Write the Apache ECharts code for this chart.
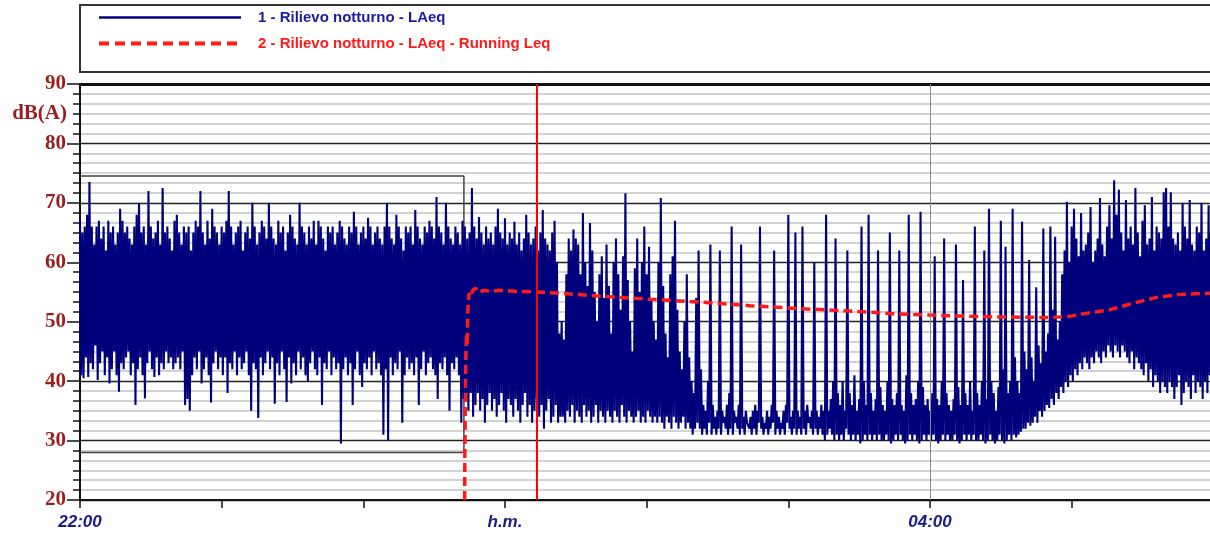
<!DOCTYPE html>
<html>
<head>
<meta charset="utf-8">
<script src="https://cdn.jsdelivr.net/npm/echarts@6/dist/echarts.min.js"></script>
<style>html,body{margin:0;padding:0;background:#fff;}#c{width:1210px;height:536px;}</style>
</head>
<body>
<div id="c"></div>
<script>
// ---- DATA (minutes after 22:00) ----
const xTickLabels = {0: '22:00', 180: 'h.m.', 360: '04:00'};
const seriesNames = ['1 - Rilievo notturno - LAeq', '2 - Rilievo notturno - LAeq - Running Leq'];

// per-minute peak and floor levels of LAeq, dB(A)
const peakSeg1 = [
67,65,66,68,73.5,66,63,66,67,64,66,62,67,65,66,63,65,69,67,65,
66,64,63,66,68,70,65,66,63,72,66,64,65,67,63,72.5,65,66,64,62,
67,68,65,63,66,65,66,62,65,67,66,72,65,63,67,64,69,66,65,63,
66,65,67,72,66,63,65,66,67,62,65,66,64,70,66,63,65,67,66,64,
70,66,64,63,67,65,66,62,65,68,66,64,63,70,66,65,63,66,64,67,
63,67,66,64,62,66,65,66,63,65,67,66,64,63,66,65,68.5,66,63,65,
66,64,67.5,66,63,65,66,64,63,66,70,66,64,63,68,66,64,62,66,65,
66,63,68.8,66,64,63,66,65,67,66,64,71,66,65,63,70,66,64,63,66,65,63,67];
const floorSeg1 = [
41,40.5,44,40.7,43,42,46,40.2,43,45,41,44,39.6,42,45,41,38.2,43,42,44,
45,41,43,36,42,44,41,37.1,43,45,42,40.7,44,41,43,42,45,43,44,42,
43,44,42,45,36,37,35,41,44,42,45,39.6,42,44,41,36.4,43,45,42,44,
41,44,38,43,42,45,41,44,42,43,45,41,35,43,42,33.8,44,41,43,45,
42,44,36.2,43,41,45,42,36.5,44,39.6,43,41,45,42,44,41,40,43,45,42,
41,44,36,43,42,45,41,44,42,43,29.5,42,44,41,43,36,42,45,41,39,
43,42,44,41,45,42,43,41,31,42,30,44,41,43,42,45,33,41,44,42,
43,41,44,36,42,45,41,43,44,42,41,37,43,42,44,41,35,43,42,44,41,33,37];
const peakSeg2 = [
66,64,65,72.5,66,64,67.6,65,63,66,64,65,63,66,69,65,64,67.4,63,65,
64,66.8,63,65,62,64,68,65,63,64,66,62,65,68.8,64,63,62,65,67,60,48];
const floorSeg2 = [
37,35,38,34,36,38,35,37,33,36,38,35,37,34,36,38,35,33,37,36,
34,37,35,33,36,38,34,36,33,35,37,34,36,32,35,37,33,34,36,33,34];
const peakSeg3 = [
50,47,58,64,62,65.5,64,63,58,68.3,60,56,66.6,62,55,50,58,61,54,63,
56,48,60,64,58,52,61,71.6,57,50,45,59,64,55,60,66,58,62.6,54,50,
47,60,70.8,56,48,44,58,61,67,52,45,42,50,58,44,40,38,54,62,42,
36,35,40,63,36,34,35,62,35,34,36,38,66,35,34,36,63,34,35,33,
34,35,36,35,66,34,33,35,34,36,62,35,34,33,35,36,68,34,35,65,
35,34,66,35,36,34,35,60,35,34,36,35,68,35,37,40,
64,38,36,40,35,62,38,36,41,35,37,66,40,36,68,38,35,37,62,39,
36,35,40,65,37,36,38,62,36,35,41,68,38,36,37,40,68.5,39,36,37,
35,38,61,37,36,40,64,38,36,35,37,63,39,36,57,38,36,40,35,66,
38,36,40,62,37,69,40,38,35,39,67,42,62.6,38,40,69,44,40,38,66.8,
45,42,60.4,44,40,55.8,46,43,65.7,45,48,66,52,64.3,47,50,58,62,70.2,60,
66,69,64,61,68.3,62,63,65,69.3,60,62,64,70.8,63,61,66,69.6,64,73.8,68,
72.2,65,62,70.5,64,66,63,72.5,65,61,67,69.6,63,64,71,62,66,65,64,71.8,
72.5,66,71.8,64,63,65,62,70,66,64,70.5,63,62,66,65,70,62,64,69.6,65];
const floorSeg3 = [
34,33,35,34,36,33,35,34,33,36,34,35,33,34,36,33,35,34,33,35,
34,33,35,34,33,36,34,33,35,34,33,34,35,33,34,33,35,34,33,34,
33,34,33,32,34,33,32,34,33,32,33,34,32,33,32,31,32,33,32,31,
32,31,33,31,32,31,32,31,33,32,31,32,31,33,32,31,32,31,33,32,
31,32,31,33,32,31,32,31,32,33,31,32,31,32,31,33,32,31,32,31,
32,31,32,31,33,32,31,32,31,32,31,30,31,32,31,30,
31,30,31,30,32,31,30,31,30,31,29.5,30,31,30,31,30,31,30,31,30,
30,31,30,29.5,30,31,30,31,30,29.5,30,31,30,31,30,29.5,30,31,30,31,
30,31,30,29.5,30,31,30,31,30,30,31,30,29.5,30,31,30,31,30,31,30,
30,31,30,29.5,30,31,30,29.5,30,31,30,29.5,30,31,30,31,30.5,31,31.5,32,
32,33,32.5,33,34,33,35,34,35,36,35.5,37,36,38,37,39,38,40,39,41,
40,42,41,43,42,44,43,42,44,43,45,44,43,45,44,46,45,44,46,45,
44,46,45,44,43,45,42,44,43,42,41,43,40,42,39,41,40,38,40,39,
38,40,39,37,39,41,36,38,40,39,37,41,38,40,39,37,40,38,41,39];

// Running Leq
const leqTimes  = [162.9,163.0,163.2,163.4,163.7,164.0,164.3,164.8,165.5,166.5,167.6,169,171,174,178,185,193.6,203,220,241,262.6,283.8,305,326,347,368.5,389.7,411,419,426,436,446,456,466,479];
const leqValues = [20,28,36,44,48,46,52,54.8,54.2,55.4,55.6,54.9,55.3,55.1,55.3,55.1,55,54.8,54.3,53.8,53.3,52.7,52.2,51.8,51.3,51,50.8,50.7,50.9,51.4,52,53.1,54.1,54.6,54.8];

// limit box (minutes; dB)
const boxTimes = [0, 162.6, 162.6, 0];
const boxLevels = [74.5, 74.5, 28, 28];
const cursorTime = 193.6;
const gridTime = 360;
const xMax = 478.6;

// ---- build ----
const laeqPeak = [].concat(peakSeg1, peakSeg2, peakSeg3);
const laeqFloor = [].concat(floorSeg1, floorSeg2, floorSeg3);
const laeqData = [];
for (let i = 0; i < laeqPeak.length; i++) {
  laeqData.push([i, laeqPeak[i]]);
  if (i < laeqFloor.length) laeqData.push([i + 0.5, laeqFloor[i]]);
}
const leqData = leqTimes.map((t, i) => [t, leqValues[i]]);
const boxData = boxTimes.map((t, i) => [t, boxLevels[i]]);

const chart = echarts.init(document.getElementById('c'), null, {renderer: 'canvas'});
const yColor = '#9b1d1d';
chart.setOption({
  animation: false,
  backgroundColor: '#fff',
  grid: {left: 80, right: 0, top: 84, bottom: 36, show: false},
  legend: {
    orient: 'vertical', left: 92, top: 5, itemWidth: 142, itemHeight: 14, itemGap: 11,
    textStyle: {fontFamily: 'Liberation Sans', fontWeight: 'bold', fontSize: 15, padding: [0, 0, 0, 12]},
    data: [
      {name: seriesNames[0], textStyle: {color: '#1c1c9e'}, lineStyle: {width: 2.5}, itemStyle: {opacity: 0}},
      {name: seriesNames[1], textStyle: {color: '#ff1a1a'}, lineStyle: {width: 4, type: [10, 6]}, itemStyle: {opacity: 0}}
    ],
    selectedMode: false
  },
  graphic: [
    {type: 'rect', shape: {x: 80, y: 5, width: 1140, height: 67}, style: {fill: 'none', stroke: '#333', lineWidth: 2}, z: 10},
    {type: 'text', x: 67, y: 114, style: {text: 'dB(A)', fill: yColor, font: 'bold 21px "Liberation Serif"', textAlign: 'right', textVerticalAlign: 'middle'}, z: 10}
  ],
  xAxis: [{
    type: 'value', min: 0, max: xMax, interval: 60,
    axisLine: {show: true, lineStyle: {color: '#111', width: 2}},
    axisTick: {show: true, length: 8, lineStyle: {color: '#111', width: 1.5}},
    axisLabel: {
      margin: 14, color: '#1a1a8c', fontFamily: 'Liberation Sans', fontStyle: 'italic', fontWeight: 'bold', fontSize: 17,
      showMaxLabel: false,
      formatter: v => xTickLabels[v] || ''
    },
    splitLine: {show: false}
  }, {
    type: 'value', position: 'top', min: 0, max: xMax, interval: 60,
    axisLine: {show: true, lineStyle: {color: '#111', width: 3}},
    axisTick: {show: false}, axisLabel: {show: false}, splitLine: {show: false}
  }],
  yAxis: {
    type: 'value', min: 20, max: 90, interval: 10,
    axisLine: {show: true, lineStyle: {color: '#111', width: 2}},
    axisTick: {show: true, length: 13, lineStyle: {color: '#111', width: 1.5}},
    minorTick: {show: true, splitNumber: 6, length: 7, lineStyle: {color: '#111', width: 1.5}},
    axisLabel: {margin: 14, color: yColor, fontFamily: 'Liberation Serif', fontWeight: 'bold', fontSize: 21},
    splitLine: {show: true, lineStyle: {color: '#222', width: 1.3}},
    minorSplitLine: {show: true, lineStyle: {color: '#c4c4c4', width: 1.5}}
  },
  series: [
    {
      type: 'line', name: 'box', data: boxData, symbol: 'none', silent: true,
      lineStyle: {color: '#444', width: 1.5}, z: 1
    },
    {
      type: 'line', name: seriesNames[0], data: laeqData, symbol: 'none', sampling: null,
      lineStyle: {color: '#00007d', width: 2.1}, itemStyle: {color: '#00007d'}, z: 2,
      markLine: {
        silent: true, symbol: 'none', label: {show: false},
        lineStyle: {color: '#8a8a8a', width: 1, type: 'solid'},
        data: [{xAxis: gridTime}]
      }
    },
    {
      type: 'line', name: seriesNames[1], data: leqData, symbol: 'none',
      lineStyle: {color: '#ff1a1a', width: 3.5, type: [9, 5]}, itemStyle: {color: '#ff1a1a'}, z: 4,
      markLine: {
        silent: true, symbol: 'none', label: {show: false},
        lineStyle: {color: '#ff0000', width: 2, type: 'solid'},
        data: [{xAxis: cursorTime}]
      }
    }
  ]
});
</script>
</body>
</html>
